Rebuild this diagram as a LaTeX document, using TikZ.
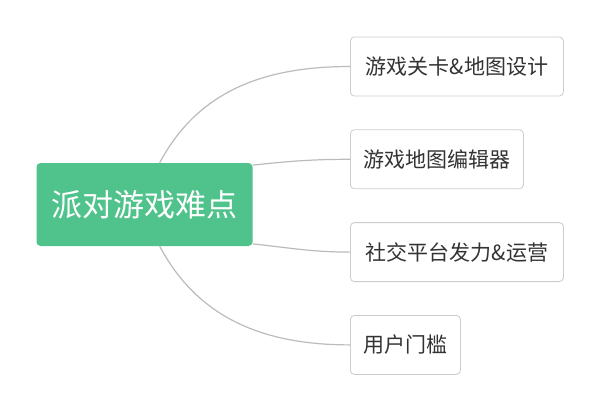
\documentclass[tikz,border=0pt]{standalone}
\usepackage{fontspec}
\setmainfont{Noto Sans CJK SC}
\usetikzlibrary{positioning}
\definecolor{rootgreen}{HTML}{50C28B}
\definecolor{boxline}{HTML}{CCCCCC}
\definecolor{linkgray}{HTML}{BBBBBB}
\definecolor{textgray}{HTML}{333333}

\begin{document}
\begin{tikzpicture} [
	x=1pt, y=-1pt,
	node distance = 33pt and 0pt,
	root/.style = {
		fill=rootgreen,
		rounded corners=4pt,
		text=white,
		font=\fontsize{31}{31}\selectfont,
		minimum width=215pt,
		minimum height=83pt,
		inner xsep=15pt
	},
	topic/.style = {
		draw=boxline,
		line width=0.8pt,
		rounded corners=4pt,
		fill=white,
		text=textgray,
		font=\fontsize{21}{21}\selectfont,
		minimum height=59pt,
		inner xsep=13pt
	},
	link/.style = {draw=linkgray, line width=1.2pt}
]
\useasboundingbox (0,0) rectangle (600,408);

\node (party) [root] at (144.5,204.5) {派对游戏难点};

\node (levels) [topic, anchor=west, minimum width=213pt] at (350,66.5) {游戏关卡\&地图设计};
\node (editor) [topic, below right=of levels.south west] {游戏地图编辑器};
\node (social) [topic, below right=of editor.south west, minimum width=213pt] {社交平台发力\&运营};
\node (entry) [topic, below right=of social.south west] {用户门槛};

\draw[link] (party.70) to[out=62, in=180] (levels.west);
\draw[link] (party.20) to[out=6, in=180] (editor.west);
\draw[link] (party.-20) to[out=-6, in=180] (social.west);
\draw[link] (party.-70) to[out=-62, in=180] (entry.west);

\end{tikzpicture}
\end{document}
